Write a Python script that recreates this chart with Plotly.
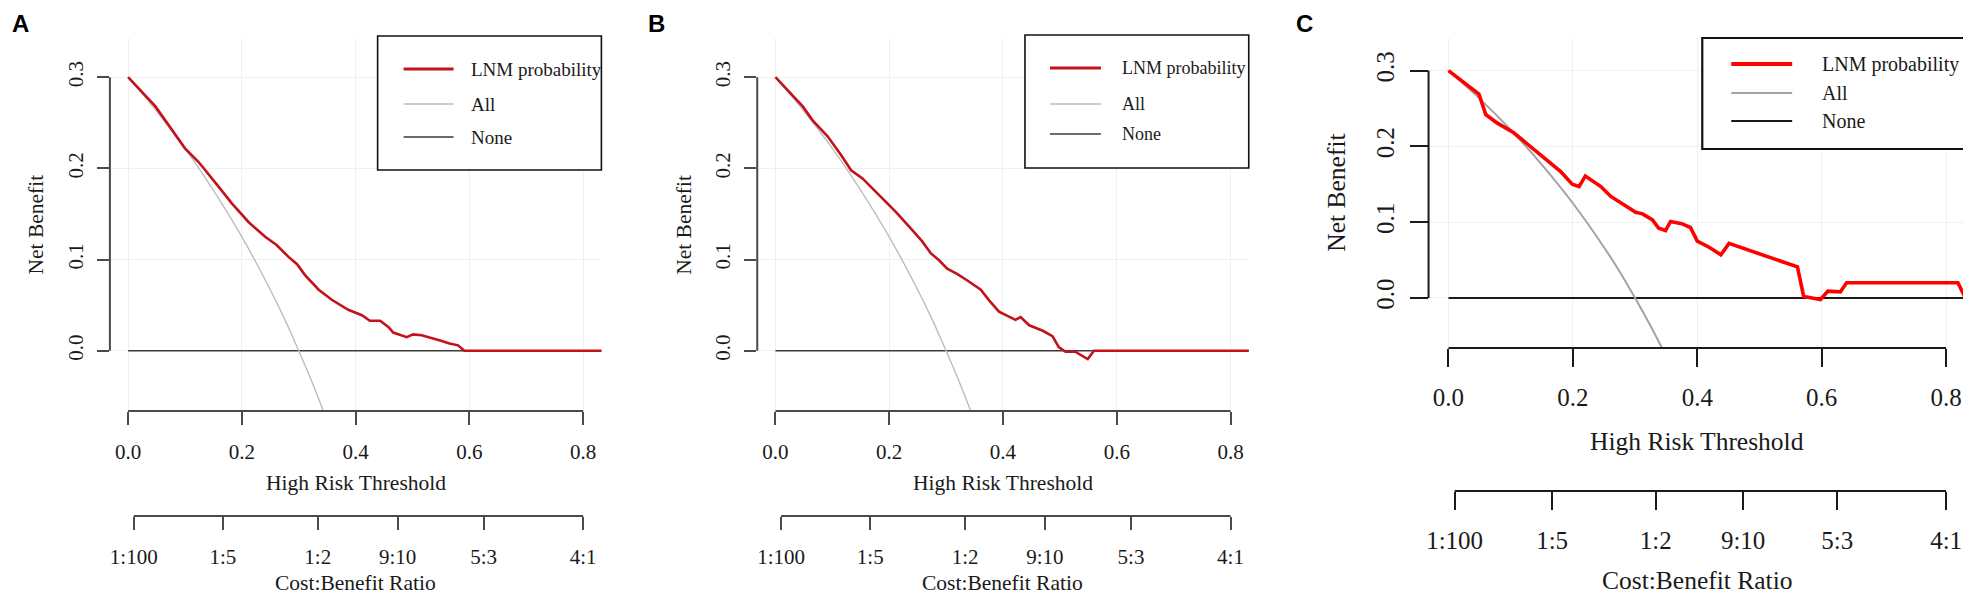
import plotly.graph_objects as go

W, H = 1971, 598
PAGE_PAD = 8  # the page body adds an 8px margin around the plot div
FW, FH = W - PAGE_PAD, H - PAGE_PAD

# net benefit curves (threshold, net benefit)
thr_a = [0.0, 0.048, 0.100, 0.124, 0.159, 0.182, 0.212, 0.241, 0.261, 0.282, 0.297, 0.311, 0.335, 0.358, 0.387,
         0.411, 0.425, 0.443, 0.458, 0.466, 0.490, 0.501, 0.516, 0.535, 0.550, 0.565, 0.580, 0.591, 0.834]
nb_a = [0.300, 0.268, 0.222, 0.207, 0.180, 0.162, 0.141, 0.125, 0.116, 0.103, 0.095, 0.083, 0.067, 0.056, 0.045,
        0.039, 0.033, 0.033, 0.026, 0.020, 0.015, 0.018, 0.017, 0.014, 0.011, 0.008, 0.006, 0.000, 0.000]

thr_b = [0.0, 0.048, 0.065, 0.092, 0.115, 0.133, 0.153, 0.182, 0.212, 0.241, 0.258, 0.273, 0.288, 0.302, 0.320,
         0.340, 0.361, 0.376, 0.393, 0.422, 0.431, 0.446, 0.470, 0.487, 0.498, 0.510, 0.527, 0.549, 0.560, 0.834]
nb_b = [0.300, 0.268, 0.253, 0.235, 0.215, 0.198, 0.189, 0.171, 0.152, 0.132, 0.120, 0.107, 0.099, 0.090, 0.084,
        0.076, 0.067, 0.055, 0.043, 0.034, 0.037, 0.028, 0.022, 0.016, 0.004, -0.001, -0.001, -0.009, 0.000, 0.000]

thr_c = [0.0, 0.049, 0.060, 0.078, 0.105, 0.127, 0.153, 0.180, 0.199, 0.210, 0.220, 0.245, 0.261, 0.282, 0.301,
         0.312, 0.328, 0.338, 0.349, 0.357, 0.375, 0.389, 0.400, 0.419, 0.438, 0.451, 0.561, 0.571, 0.598, 0.610,
         0.630, 0.640, 0.819, 0.831]
nb_c = [0.300, 0.269, 0.242, 0.231, 0.218, 0.203, 0.184, 0.167, 0.150, 0.147, 0.161, 0.147, 0.134, 0.123, 0.113,
        0.111, 0.103, 0.092, 0.089, 0.101, 0.098, 0.093, 0.075, 0.067, 0.057, 0.072, 0.041, 0.002, -0.002, 0.009,
        0.008, 0.020, 0.020, 0.000]

# "treat all" curve (same in every panel) and "treat none"
thr_all = [0.0, 0.05, 0.10, 0.15, 0.20, 0.25, 0.275, 0.30, 0.325, 0.35]
nb_all = [0.300, 0.263, 0.222, 0.176, 0.125, 0.067, 0.035, 0.000, -0.037, -0.077]
thr_none = [0.0, 0.834]
nb_none = [0.0, 0.0]

x_ticks = [0.0, 0.2, 0.4, 0.6, 0.8]
y_ticks = [0.0, 0.1, 0.2, 0.3]
ratio_labels = ["1:100", "1:5", "1:2", "9:10", "5:3", "4:1"]
legend_names = ["LNM probability", "All", "None"]

X_RANGE = [-0.032, 0.832]
Y_RANGE = [-0.066, 0.343]
FONT = "Liberation Serif"

# ratio c:b sits at threshold c/(c+b)
ratio_pos = []
for lab in ratio_labels:
    c, b = lab.split(":")
    ratio_pos.append(int(c) / (int(c) + int(b)))

curves = [(thr_a, nb_a), (thr_b, nb_b), (thr_c, nb_c)]

# panel geometry in page pixels
panels = [
    dict(letter="A", lx=8, left=108, right=600, top=38, bottom=411, ax2=516, tick=13, ytick=12,
         font=21, legfont=19, leg=(376, 600, 36, 170), rows=(69, 104, 137), seg=(402, 452), tx=467,
         ytitle_x=34, xtitle_y=483, red="#c4121a", red_w=2.6, all_c="#bdbdbd", all_w=1.4,
         none_c="#3a3a3a", none_w=1.6, axc="#4a4a4a", legline=1.6),
    dict(letter="B", lx=645, left=756, right=1248, top=38, bottom=411, ax2=516, tick=13, ytick=12,
         font=21, legfont=18, leg=(1024, 1248, 35, 168), rows=(68, 104, 134), seg=(1049, 1100), tx=1119,
         ytitle_x=682, xtitle_y=483, red="#c4121a", red_w=2.6, all_c="#bdbdbd", all_w=1.4,
         none_c="#3a3a3a", none_w=1.6, axc="#4a4a4a", legline=1.6),
    dict(letter="C", lx=1293, left=1428, right=1966, top=38, bottom=348, ax2=491, tick=18, ytick=18,
         font=25, legfont=20, leg=(1702, 1966, 38, 149), rows=(64, 93, 121), seg=(1731, 1792), tx=1820,
         ytitle_x=1335, xtitle_y=442, red="#ff0000", red_w=3.6, all_c="#a3a3a3", all_w=2.0,
         none_c="#1a1a1a", none_w=2.2, axc="#1a1a1a", legline=2.2),
]


def px(x):
    return (x - PAGE_PAD) / FW


def py(y):
    return 1 - (y - PAGE_PAD) / FH


fig = go.Figure()
shapes = []
annotations = []
layout = {}

for i, (p, (thr, nb)) in enumerate(zip(panels, curves), start=1):
    sx = "" if i == 1 else str(i)
    xa, ya, ra = "x" + sx, "y" + sx, f"x{i + 3}"

    fig.add_trace(go.Scatter(x=thr_none, y=nb_none, mode="lines", xaxis=xa, yaxis=ya,
                             line=dict(color=p["none_c"], width=p["none_w"]), name="None"))
    fig.add_trace(go.Scatter(x=thr_all, y=nb_all, mode="lines", xaxis=xa, yaxis=ya,
                             line=dict(color=p["all_c"], width=p["all_w"], shape="spline"), name="All"))
    fig.add_trace(go.Scatter(x=thr, y=nb, mode="lines", xaxis=xa, yaxis=ya,
                             line=dict(color=p["red"], width=p["red_w"]), name="LNM probability"))
    # keeps the cost:benefit axis alive
    fig.add_trace(go.Scatter(x=ratio_pos, y=[None] * len(ratio_pos), mode="lines", xaxis=ra, yaxis=ya,
                             hoverinfo="skip", showlegend=False))

    dom_x = [px(p["left"]), px(p["right"])]
    dom_y = [py(p["bottom"]), py(p["top"])]
    tickfont = dict(family=FONT, size=p["font"], color="#1a1a1a")

    layout[f"xaxis{sx}"] = dict(
        domain=dom_x, range=X_RANGE, anchor=ya, tickvals=x_ticks,
        ticktext=[f"{v:.1f}" for v in x_ticks], ticks="outside", ticklen=p["tick"], tickwidth=2,
        tickcolor=p["axc"], showline=False, zeroline=False, showgrid=True, gridcolor="#f0f0f0",
        gridwidth=1, tickfont=tickfont, ticklabelstandoff=9, fixedrange=True)
    layout[f"yaxis{sx}"] = dict(
        domain=dom_y, range=Y_RANGE, anchor=xa, tickvals=y_ticks,
        ticktext=[f"{v:.1f}" for v in y_ticks], ticks="outside", ticklen=p["ytick"], tickwidth=2,
        tickcolor=p["axc"], tickangle=-90, showline=False, zeroline=False, showgrid=True,
        gridcolor="#f0f0f0", gridwidth=1, tickfont=tickfont, ticklabelstandoff=6, fixedrange=True)
    layout[f"xaxis{i + 3}"] = dict(
        domain=dom_x, range=X_RANGE, overlaying=xa, anchor="free", position=py(p["ax2"]), side="bottom",
        tickvals=ratio_pos, ticktext=ratio_labels, ticks="outside", ticklen=p["tick"], tickwidth=2,
        tickcolor=p["axc"], showline=False, zeroline=False, showgrid=False, tickfont=tickfont,
        ticklabelstandoff=9, fixedrange=True)

    line = dict(color=p["axc"], width=2)
    # R-style axis lines that stop at the outer ticks
    shapes.append(dict(type="line", xref=xa, yref=f"{ya} domain", x0=x_ticks[0], x1=x_ticks[-1],
                       y0=0, y1=0, line=line))
    shapes.append(dict(type="line", xref=f"{xa} domain", yref=ya, x0=0, x1=0,
                       y0=y_ticks[0], y1=y_ticks[-1], line=line))
    shapes.append(dict(type="line", xref=xa, yref="paper", x0=ratio_pos[0], x1=ratio_pos[-1],
                       y0=py(p["ax2"]), y1=py(p["ax2"]), line=line))

    # legend box
    l0, l1, t0, t1 = p["leg"]
    shapes.append(dict(type="rect", xref="paper", yref="paper", x0=px(l0), x1=px(l1), y0=py(t1), y1=py(t0),
                       line=dict(color="#111111", width=p["legline"]), fillcolor="white", layer="above"))
    leg_styles = [(p["red"], p["red_w"] + 0.6), (p["all_c"], p["all_w"]), (p["none_c"], p["none_w"])]
    for name, row, (col, wd) in zip(legend_names, p["rows"], leg_styles):
        shapes.append(dict(type="line", xref="paper", yref="paper", x0=px(p["seg"][0]), x1=px(p["seg"][1]),
                           y0=py(row), y1=py(row), line=dict(color=col, width=wd), layer="above"))
        annotations.append(dict(text=name, xref="paper", yref="paper", x=px(p["tx"]), y=py(row),
                                xanchor="left", yanchor="middle", showarrow=False,
                                font=dict(family=FONT, size=p["legfont"], color="#1a1a1a")))

    mid = px((p["left"] + p["right"]) / 2)
    tfont = dict(family=FONT, size=p["font"] + 0.5, color="#1a1a1a")
    annotations.append(dict(text="High Risk Threshold", xref="paper", yref="paper", x=mid, y=py(p["xtitle_y"]),
                            xanchor="center", yanchor="middle", showarrow=False, font=tfont))
    annotations.append(dict(text="Cost:Benefit Ratio", xref="paper", yref="paper", x=mid, y=py(597),
                            xanchor="center", yanchor="bottom", showarrow=False, font=tfont))
    annotations.append(dict(text="Net Benefit", xref="paper", yref="paper", x=px(p["ytitle_x"]),
                            y=py((p["top"] + p["bottom"]) / 2), textangle=-90, xanchor="center",
                            yanchor="middle", showarrow=False, font=tfont))
    annotations.append(dict(text="<b>" + p["letter"] + "</b>", xref="paper", yref="paper", x=px(p["lx"]),
                            y=1, xanchor="left", yanchor="top", showarrow=False,
                            font=dict(family="Liberation Sans", size=24, color="#000000")))

fig.update_layout(
    width=FW, height=FH,
    margin=dict(l=0, r=0, t=0, b=0),
    plot_bgcolor="white", paper_bgcolor="white",
    showlegend=False,
    shapes=shapes, annotations=annotations,
    **layout,
)

fig.write_html("out.html")
